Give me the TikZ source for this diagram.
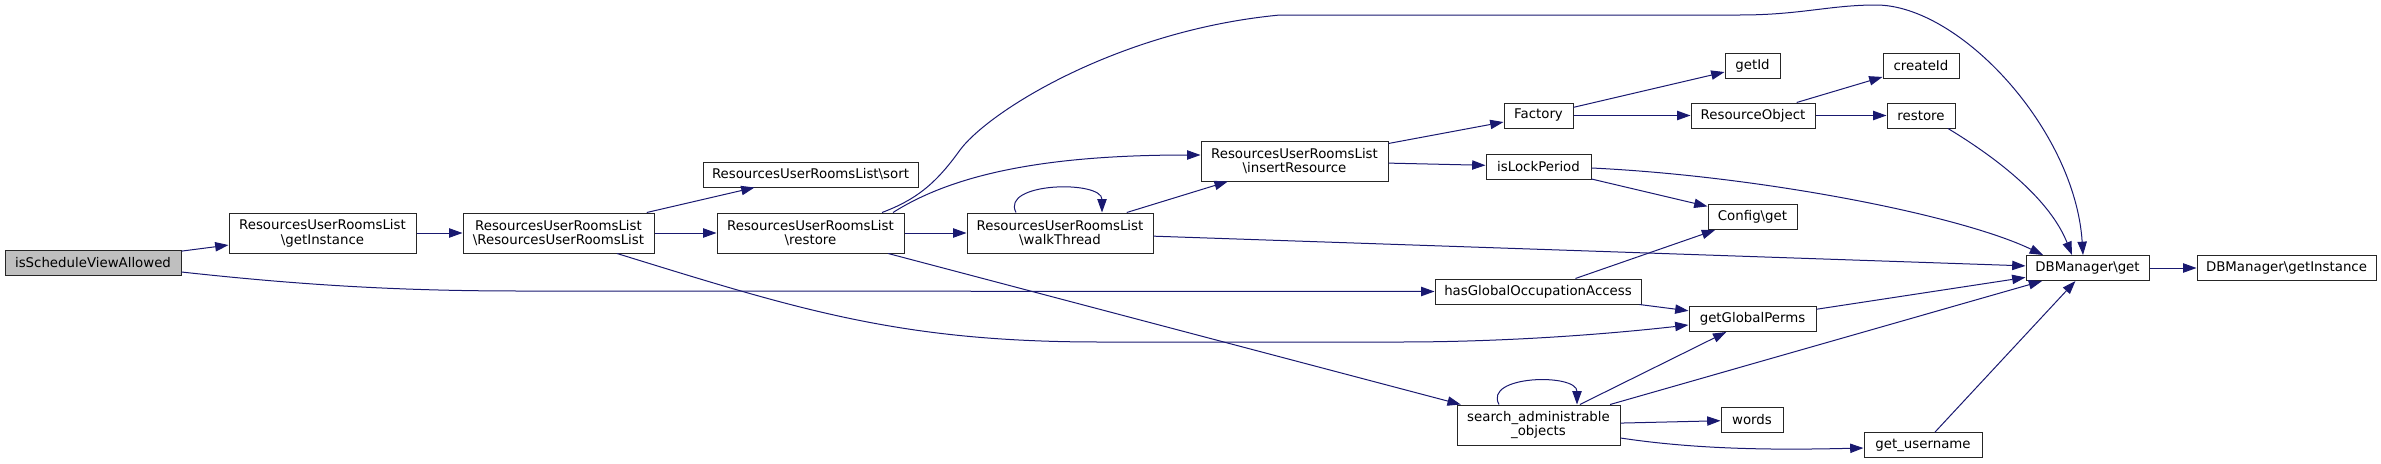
\documentclass[tikz,border=0pt]{standalone}
\usepackage{fontspec}
\setmainfont{DejaVu Sans}
\usetikzlibrary{arrows.meta,calc}
\definecolor{edgeblue}{HTML}{191970}
\definecolor{rootgray}{HTML}{BFBFBF}

\begin{document}
\begin{tikzpicture}[x=0.75pt,y=-0.75pt,
  fn/.style={draw=black!85,line width=0.75pt,fill=white,inner sep=0pt,align=center,
    minimum height=18.75pt,font=\fontsize{10}{11}\selectfont},
  fn2/.style={fn,minimum height=30pt},
  call/.style={draw=edgeblue,line width=0.75pt,-{Triangle[length=10pt,width=7pt]}}]
\useasboundingbox (0,0) rectangle (2381,464);

% functions
\node[fn,fill=rootgray,minimum width=132pt] (isSVA) at (93,262.5) {isScheduleViewAllowed};
\node[fn2,minimum width=140.25pt] (gi) at (322.5,233) {ResourcesUserRoomsList\\\textbackslash getInstance};
\node[fn2,minimum width=143.25pt] (ctor) at (558.5,233) {ResourcesUserRoomsList\\\textbackslash ResourcesUserRoomsList};
\node[fn,minimum width=161.25pt] (sort) at (810.5,174.5) {ResourcesUserRoomsList\textbackslash sort};
\node[fn2,minimum width=140.25pt] (rrestore) at (810.5,233) {ResourcesUserRoomsList\\\textbackslash restore};
\node[fn2,minimum width=139.5pt] (walk) at (1060,233) {ResourcesUserRoomsList\\\textbackslash walkThread};
\node[fn2,minimum width=140.25pt] (ins) at (1294.5,161) {ResourcesUserRoomsList\\\textbackslash insertResource};
\node[fn,minimum width=154.5pt] (hgoa) at (1538,291.5) {hasGlobalOccupationAccess};
\node[fn2,minimum width=122.25pt] (sao) at (1538.5,425) {search\_administrable\\\_objects};
\node[fn,minimum width=51.75pt] (fac) at (1538.5,115.5) {Factory};
\node[fn,minimum width=78.75pt] (ilp) at (1538.5,166.5) {isLockPeriod};
\node[fn,minimum width=41.25pt] (getid) at (1752.5,65.5) {getId};
\node[fn,minimum width=93pt] (ro) at (1753,115.5) {ResourceObject};
\node[fn,minimum width=57pt] (cid) at (1921,65.5) {createId};
\node[fn,minimum width=51pt] (rst) at (1921,115.5) {restore};
\node[fn,minimum width=66.75pt] (cfg) at (1752.5,217) {Config\textbackslash get};
\node[fn,minimum width=95.25pt] (ggp) at (1752.5,319) {getGlobalPerms};
\node[fn,minimum width=46.5pt] (words) at (1752,420) {words};
\node[fn,minimum width=88.5pt] (gun) at (1923,445) {get\_username};
\node[fn,minimum width=92.25pt] (dbg) at (2087.5,268) {DBManager\textbackslash get};
\node[fn,minimum width=134.25pt] (dbgi) at (2286.5,268) {DBManager\textbackslash getInstance};

% calls
\draw[call] (isSVA) -- (gi);
\draw[call] ($(isSVA.east)+(0,9.5)$) .. controls (300,285) and (400,291) .. (520,291) -- (hgoa.west);
\draw[call] (gi) -- (ctor);
\draw[call] (ctor) -- (sort);
\draw[call] (ctor) -- (rrestore);
\draw[call] ($(ctor.south)+(58.5,0)$) .. controls (800,310) and (900,342) .. (1100,342)
  -- (1400,342) .. controls (1500,342) and (1600,335) .. ($(ggp.west)+(0,6)$);
\draw[call] (rrestore) -- (walk);
\draw[call] (rrestore) -- (sao);
\draw[call] ($(rrestore.north)+(82.5,0)$) .. controls (960,170) and (1060,155) .. ($(ins.west)+(0,-6)$);
\draw[call] ($(rrestore.north)+(71.5,0)$) .. controls (915,200) and (935,185) .. (960,150)
  .. controls (990,110) and (1120,30) .. (1280,15) -- (1740,15)
  .. controls (1800,15) and (1830,5) .. (1876,5)
  .. controls (1960,5) and (2075,130) .. ($(dbg.north)+(-4.5,0)$);
\draw[call] ($(walk.north)+(-44,0)$) .. controls (1000,182) and (1102,180) .. ($(walk.north)+(42,0)$);
\draw[call] (walk) -- (ins);
\draw[call] (walk) -- (dbg);
\draw[call] (ins) -- (fac);
\draw[call] (ins) -- (ilp);
\draw[call] (fac) -- (getid);
\draw[call] (fac) -- (ro);
\draw[call] (ro) -- (cid);
\draw[call] (ro) -- (rst);
\draw[call] ($(rst.south)+(27,0)$) .. controls (2000,160) and (2050,200) .. ($(dbg.north)+(-15.5,0)$);
\draw[call] (ilp) -- (cfg);
\draw[call] ($(ilp.east)+(0,1.5)$) .. controls (1760,176) and (1960,215) .. ($(dbg.north)+(-44.5,0)$);
\draw[call] (hgoa) -- (cfg);
\draw[call] (hgoa) -- (ggp);
\draw[call] (ggp) -- (dbg);
\draw[call] ($(sao.north)+(-39.5,0)$) .. controls (1483,375) and (1577,373) .. ($(sao.north)+(38.5,0)$);
\draw[call] (sao) -- (ggp);
\draw[call] (sao) -- (dbg);
\draw[call] (sao) -- (words);
\draw[call] ($(sao.east)+(0,13)$) .. controls (1700,450) and (1780,450) .. ($(gun.west)+(0,3)$);
\draw[call] (gun) -- (dbg);
\draw[call] (dbg) -- (dbgi);
\end{tikzpicture}
\end{document}
